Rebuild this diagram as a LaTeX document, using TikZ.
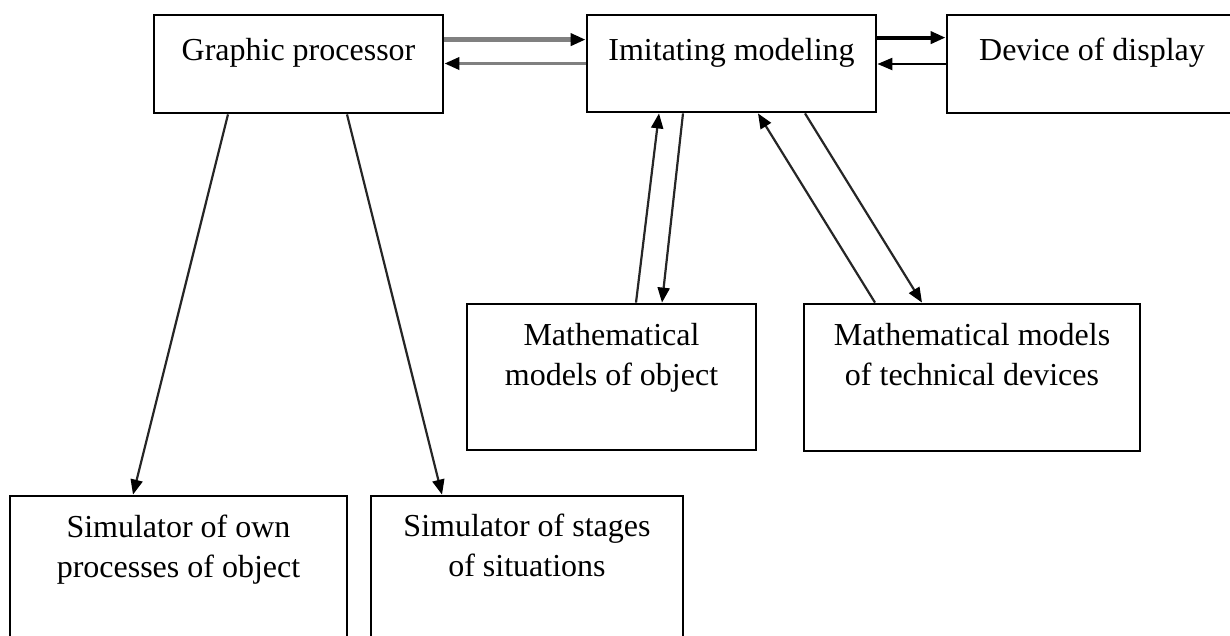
\documentclass[tikz,border=0pt]{standalone}
\usepackage{fontspec}
\setmainfont{Liberation Serif}
\usetikzlibrary{arrows.meta}
\definecolor{linkgray}{HTML}{262626}
\definecolor{busgray}{HTML}{808080}
\begin{document}
\begin{tikzpicture}[x=1pt,y=-1pt,
  block/.style 2 args={draw=black, line width=2.8pt, minimum width=#1,
    minimum height=#2, inner sep=0pt},
  lbl/.style={font=\fontsize{32}{40}\selectfont, align=center,
    anchor=north, inner sep=0pt},
  >={Triangle[length=15pt,width=12pt,color=black]},
  link/.style={draw=linkgray, line width=2.2pt, ->},
  busthick/.style={draw=busgray, line width=5pt, ->},
  busthin/.style={draw=busgray, line width=3.5pt, ->},
  outthick/.style={draw=black, line width=4pt, ->},
  outthin/.style={draw=black, line width=2.2pt, ->}]
\useasboundingbox (0,0) rectangle (1230,635);
\clip (0,0) rectangle (1230,635);

% blocks
\node[block={289pt}{98pt}]  (gp) at (298.5,64)  {};
\node[block={289pt}{97pt}]  (im) at (731.5,63.5) {};
\node[block={290pt}{98pt}]  (dd) at (1092,64)   {};
\node[block={289pt}{146pt}] (mo) at (611.5,377) {};
\node[block={336pt}{147pt}] (mt) at (972,377.5) {};
\node[block={337pt}{146pt}] (so) at (178.5,569) {};
\node[block={312pt}{146pt}] (ss) at (527,569)   {};

% block captions
\node[lbl] (gpt) at ([yshift=-24pt]gp.north) {Graphic processor};
\node[lbl] (imt) at ([yshift=-24pt]im.north) {Imitating modeling};
\node[lbl] (ddt) at ([yshift=-24pt]dd.north) {Device of display};
\node[lbl] (mot) at ([yshift=-20pt]mo.north) {Mathematical\\models of object};
\node[lbl] (mtt) at ([yshift=-20pt]mt.north) {Mathematical models\\of technical devices};
\node[lbl] (sot) at ([yshift=-20pt]so.north) {Simulator of own\\processes of object};
\node[lbl] (sst) at ([yshift=-19pt]ss.north) {Simulator of stages\\of situations};

% exchange between graphic processor and modeling
\draw[busthick] ([yshift=-26pt]gp.north east) -- ([yshift=-26pt]im.north west);
\draw[busthin] (im.west) -- (im.west -| gp.east);

% exchange between modeling and display
\draw[outthick] ([yshift=-24pt]im.north east) -- ([yshift=-24pt]dd.north west);
\draw[outthin] (dd.west) -- (dd.west -| im.east);

% modeling and mathematical models
\draw[link] ([xshift=24.5pt]mo.north) -- ([xshift=-72.5pt]im.south);
\draw[link] ([xshift=-48.5pt]im.south) -- ([xshift=50.5pt]mo.north);
\draw[link] ([xshift=-97pt]mt.north) -- ([xshift=26.5pt]im.south);
\draw[link] ([xshift=73.5pt]im.south) -- ([xshift=-50pt]mt.north);

% graphic processor and simulators
\draw[link] ([xshift=-70.5pt]gp.south) -- ([xshift=-45.5pt]so.north);
\draw[link] ([xshift=48.5pt]gp.south) -- ([xshift=-85pt]ss.north);
\end{tikzpicture}
\end{document}
